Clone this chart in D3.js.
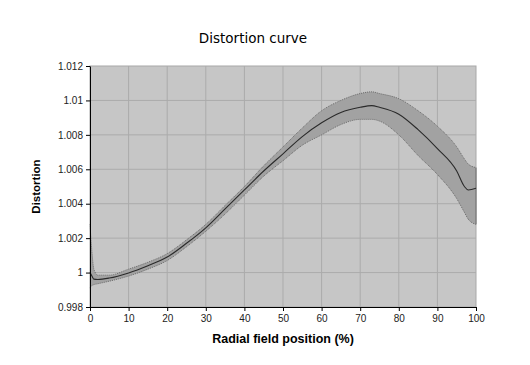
<!DOCTYPE html>
<html>
<head>
<meta charset="utf-8">
<script src="https://cdn.jsdelivr.net/npm/d3@7"></script>
<style>
  html, body { margin: 0; padding: 0; background: #fff; }
  text { font-family: "Liberation Sans", Arial, sans-serif; }
</style>
</head>
<body>
<div id="chart"></div>
<script>
// radial position (%) and distortion: mean and band limits
const POSITION = [0, 0.5, 1, 2, 5, 10, 15, 20, 25, 30, 35, 40, 45, 50, 55, 60, 65, 70, 73, 75, 80, 85, 90, 95, 97, 98, 100];
const MEAN  = [1.0000, 0.9998, 0.99962, 0.9996, 0.99968, 0.99998, 1.0004, 1.0009, 1.0017, 1.0026, 1.0037, 1.0048, 1.0059, 1.0069, 1.0079, 1.0087, 1.0093, 1.0096, 1.0097, 1.0096, 1.0092, 1.0083, 1.0072, 1.0059, 1.0050, 1.0048, 1.0049];
const UPPER = [1.0028, 1.0012, 1.0002, 0.99985, 0.99985, 1.0002, 1.0006, 1.0011, 1.0019, 1.0028, 1.0039, 1.0050, 1.0062, 1.0073, 1.0084, 1.0094, 1.0100, 1.0104, 1.0105, 1.0104, 1.0101, 1.0094, 1.0085, 1.0073, 1.0066, 1.0063, 1.0061];
const LOWER = [0.9991, 0.99925, 0.9993, 0.99935, 0.9995, 0.9998, 1.0002, 1.0007, 1.0015, 1.0024, 1.0034, 1.0045, 1.0056, 1.0065, 1.0074, 1.0080, 1.0086, 1.0089, 1.0089, 1.0088, 1.0080, 1.0068, 1.0057, 1.0043, 1.0035, 1.0031, 1.0028];

const X_TICKS = d3.range(0, 101, 10);
const Y_TICKS = [0.998, 1, 1.002, 1.004, 1.006, 1.008, 1.01, 1.012];

const W = 530, H = 365;
const margin = { top: 66, right: 54, bottom: 58, left: 90 };
const innerW = W - margin.left - margin.right;
const innerH = H - margin.top - margin.bottom;

const data = POSITION.map((p, i) => ({ p, mean: MEAN[i], hi: UPPER[i], lo: LOWER[i] }));

const x = d3.scaleLinear().domain([0, 100]).range([0, innerW]);
const y = d3.scaleLinear().domain([0.998, 1.012]).range([innerH, 0]);

const svg = d3.select("#chart").append("svg")
  .attr("width", W).attr("height", H);

svg.append("text")
  .attr("x", 253).attr("y", 43)
  .attr("text-anchor", "middle")
  .style("font-family", "'DejaVu Sans', sans-serif")
  .style("font-size", "13.5px")
  .text("Distortion curve");

const g = svg.append("g").attr("transform", `translate(${margin.left},${margin.top})`);

// plot area
g.append("rect")
  .attr("width", innerW).attr("height", innerH)
  .attr("fill", "#c6c6c6")
  .attr("stroke", "#a8a8a8");

// grid
g.selectAll(".vgrid").data(X_TICKS.slice(1, -1)).join("line")
  .attr("x1", d => x(d)).attr("x2", d => x(d))
  .attr("y1", 0).attr("y2", innerH)
  .attr("stroke", "#ababab").attr("stroke-width", 1);
g.selectAll(".hgrid").data(Y_TICKS.slice(1, -1)).join("line")
  .attr("x1", 0).attr("x2", innerW)
  .attr("y1", d => y(d)).attr("y2", d => y(d))
  .attr("stroke", "#ababab").attr("stroke-width", 1);

// band
const curve = d3.curveMonotoneX;
g.append("path").datum(data)
  .attr("d", d3.area().x(d => x(d.p)).y0(d => y(d.lo)).y1(d => y(d.hi)).curve(curve))
  .attr("fill", "#a2a2a2");
g.append("path").datum(data)
  .attr("d", d3.line().x(d => x(d.p)).y(d => y(d.hi)).curve(curve))
  .attr("fill", "none").attr("stroke", "#6a6a6a").attr("stroke-width", 1)
  .attr("stroke-dasharray", "1,1");
g.append("path").datum(data)
  .attr("d", d3.line().x(d => x(d.p)).y(d => y(d.lo)).curve(curve))
  .attr("fill", "none").attr("stroke", "#6a6a6a").attr("stroke-width", 1)
  .attr("stroke-dasharray", "1,1");
const last = data[data.length - 1];
g.append("line")
  .attr("x1", x(last.p)).attr("x2", x(last.p))
  .attr("y1", y(last.hi)).attr("y2", y(last.lo))
  .attr("stroke", "#6a6a6a").attr("stroke-width", 1);

// mean line
g.append("path").datum(data)
  .attr("d", d3.line().x(d => x(d.p)).y(d => y(d.mean)).curve(curve))
  .attr("fill", "none").attr("stroke", "#2a2a2a").attr("stroke-width", 1.1);

// axes
const xAxis = g.append("g").attr("transform", `translate(0,${innerH})`)
  .call(d3.axisBottom(x).tickValues(X_TICKS).tickSize(4).tickSizeOuter(0).tickPadding(4));
const yAxis = g.append("g")
  .call(d3.axisLeft(y).tickValues(Y_TICKS).tickSize(4).tickSizeOuter(0).tickPadding(3)
    .tickFormat(d => d3.format("")(+d.toFixed(3))));
[xAxis, yAxis].forEach(a => {
  a.select(".domain").attr("stroke", "#000");
  a.selectAll(".tick line").attr("stroke", "#000");
  a.selectAll(".tick text")
    .style("font-family", "'Liberation Sans', Arial, sans-serif")
    .style("font-size", "10px").attr("fill", "#222");
});

svg.append("text")
  .attr("x", 283).attr("y", 343)
  .attr("text-anchor", "middle")
  .style("font-size", "12.5px").style("font-weight", "bold")
  .text("Radial field position (%)");

svg.append("text")
  .attr("transform", `translate(40,${margin.top + innerH / 2}) rotate(-90)`)
  .attr("text-anchor", "middle")
  .style("font-size", "11.5px").style("font-weight", "bold")
  .text("Distortion");
</script>
</body>
</html>
